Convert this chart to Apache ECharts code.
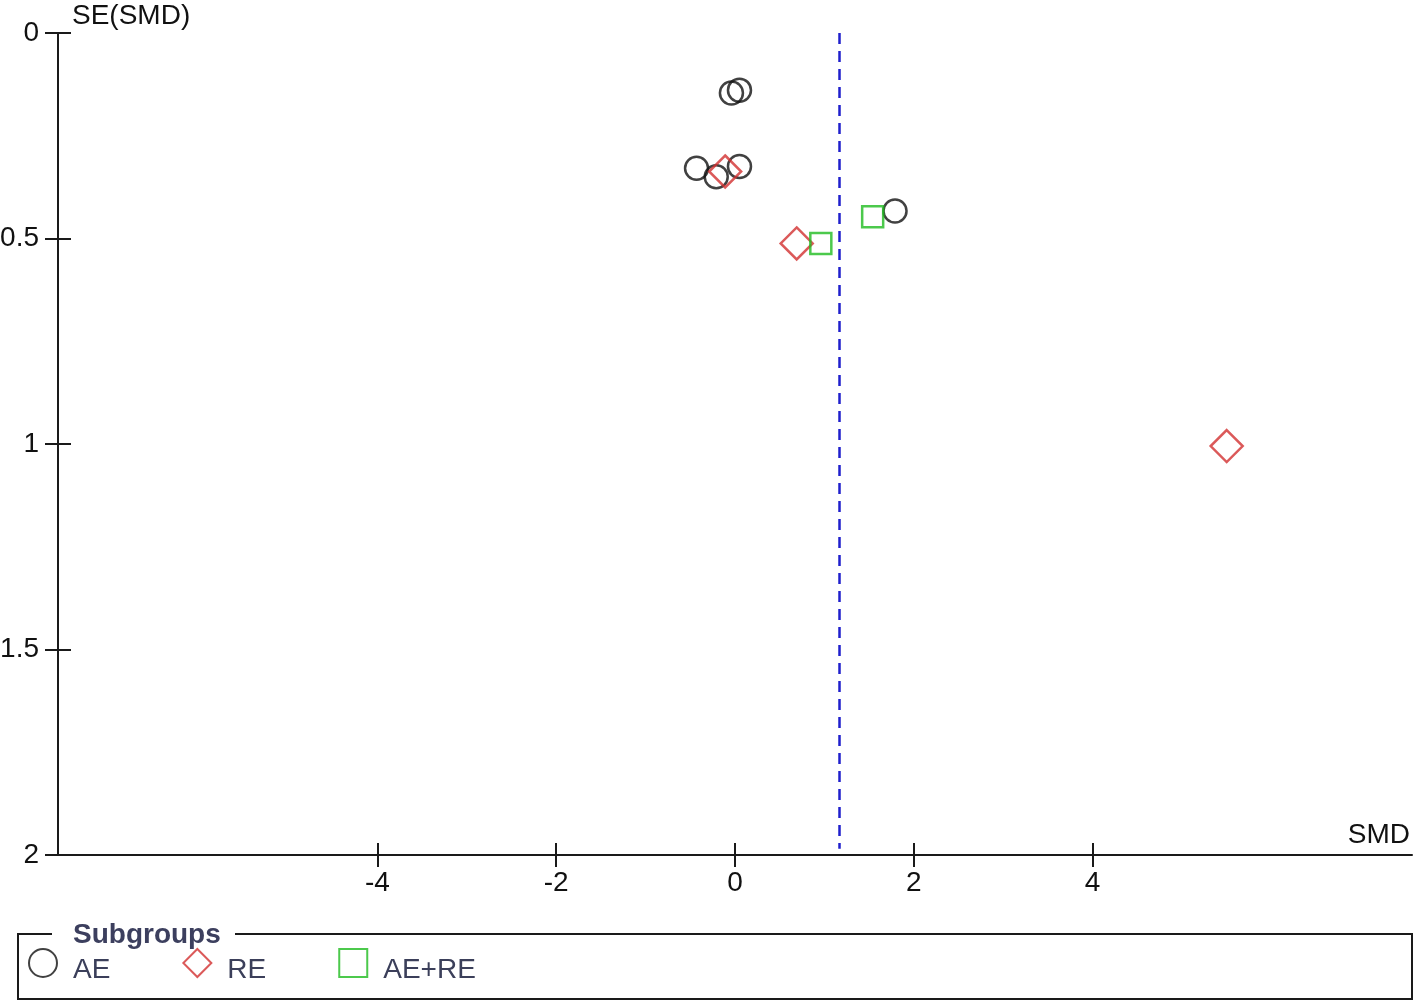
<!DOCTYPE html>
<html>
<head>
<meta charset="utf-8">
<style>html,body{margin:0;padding:0;background:#fff;}#chart{width:1417px;height:1004px;}</style>
<script src="https://cdn.jsdelivr.net/npm/echarts@6/dist/echarts.min.js"></script>
</head>
<body>
<div id="chart"></div>
<script>
// Data: [SMD, SE(SMD)]
const subgroupNames = ['AE', 'RE', 'AE+RE'];
const aePoints = [[-0.04, 0.146], [0.05, 0.139], [-0.43, 0.329], [-0.21, 0.350], [0.05, 0.325], [1.79, 0.433]];
const rePoints = [[-0.11, 0.337], [0.69, 0.512], [5.50, 1.005]];
const aeRePoints = [[0.96, 0.512], [1.54, 0.447]];
const pooledSMD = 1.163;
const xTickValues = [-4, -2, 0, 2, 4];
const yTickValues = [0, 0.5, 1, 1.5, 2];

const FONT = '"Liberation Sans", Arial, sans-serif';
const chart = echarts.init(document.getElementById('chart'), null, {renderer: 'canvas'});
const xMin = -7.573, xMax = 7.573;

const option = {
  animation: false,
  backgroundColor: '#fff',
  textStyle: {fontFamily: FONT},
  grid: {left: 58, right: 5, top: 33, bottom: 149, outerBoundsMode: 'none', containLabel: false},
  xAxis: [{
    type: 'value', min: xMin, max: xMax, position: 'bottom',
    name: 'SMD', nameLocation: 'end', nameGap: -2,
    nameTextStyle: {fontSize: 28, color: '#111', align: 'right', verticalAlign: 'bottom', padding: [0, 0, 6, 0], fontFamily: FONT},
    axisLine: {show: true, onZero: false, lineStyle: {color: '#1a1a1a', width: 2}},
    axisTick: {show: true, length: 12, lineStyle: {color: '#1a1a1a', width: 2}, customValues: xTickValues},
    axisLabel: {show: true, fontSize: 28, color: '#111', margin: 14, customValues: xTickValues, fontFamily: FONT},
    splitLine: {show: false}
  }, {
    type: 'value', min: xMin, max: xMax, position: 'bottom',
    axisLine: {show: false, onZero: false},
    axisTick: {show: true, inside: true, length: 12, lineStyle: {color: '#1a1a1a', width: 2}, customValues: xTickValues},
    axisLabel: {show: false},
    splitLine: {show: false}
  }],
  yAxis: [{
    type: 'value', min: 0, max: 2, interval: 0.5, inverse: true, position: 'left',
    name: 'SE(SMD)', nameLocation: 'start', nameGap: 3,
    nameTextStyle: {fontSize: 28, color: '#111', align: 'left', verticalAlign: 'bottom', padding: [0, 0, 0, 14], fontFamily: FONT},
    axisLine: {show: true, onZero: false, lineStyle: {color: '#1a1a1a', width: 2}},
    axisTick: {show: true, length: 13, lineStyle: {color: '#1a1a1a', width: 2}},
    axisLabel: {show: true, fontSize: 28, color: '#111', margin: 19, fontFamily: FONT},
    splitLine: {show: false}
  }, {
    type: 'value', min: 0, max: 2, interval: 0.5, inverse: true, position: 'left',
    axisLine: {show: false, onZero: false},
    axisTick: {show: true, inside: true, length: 13, lineStyle: {color: '#1a1a1a', width: 2}},
    axisLabel: {show: false},
    splitLine: {show: false}
  }],
  legend: {
    show: true,
    left: 28, top: 948, padding: 0,
    orient: 'horizontal',
    itemWidth: 28, itemHeight: 28, itemGap: 72,
    data: subgroupNames,
    formatter: '{t|{name}}',
    textStyle: {
      fontSize: 28, color: '#3b3f5a', fontFamily: FONT, padding: [0, 0, 0, 11],
      rich: {t: {fontSize: 28, color: '#3b3f5a', fontFamily: FONT, padding: [14, 0, 0, 0]}}
    }
  },
  graphic: [
    {type: 'rect', shape: {x: 18, y: 934, width: 1394, height: 65}, style: {fill: 'none', stroke: '#1a1a1a', lineWidth: 2}, z: 10},
    {type: 'rect', shape: {x: 52, y: 920, width: 183, height: 24}, style: {fill: '#fff'}, z: 11},
    {type: 'text', x: 73, y: 935, style: {text: 'Subgroups', font: 'bold 28px ' + FONT, fill: '#3c3f5e', textVerticalAlign: 'middle'}, z: 12}
  ],
  series: [
    {
      name: 'AE', type: 'scatter', data: aePoints, symbol: 'circle', symbolSize: 23,
      itemStyle: {color: 'rgba(0,0,0,0)', borderColor: '#111', borderWidth: 2.5}, z: 3
    },
    {
      name: 'RE', type: 'scatter', data: rePoints, symbol: 'diamond', symbolSize: 32,
      itemStyle: {color: 'rgba(0,0,0,0)', borderColor: '#d22f2f', borderWidth: 2.5}, z: 4,
      markLine: {
        silent: true, symbol: 'none', label: {show: false},
        lineStyle: {color: '#1f1fcc', type: [11, 7], width: 2.5},
        data: [[{coord: [pooledSMD, 0]}, {coord: [pooledSMD, 1.985]}]]
      }
    },
    {
      name: 'AE+RE', type: 'scatter', data: aeRePoints, symbol: 'rect', symbolSize: 21,
      itemStyle: {color: 'rgba(0,0,0,0)', borderColor: '#1fbb1f', borderWidth: 2.5}, z: 5
    }
  ]
};
chart.setOption(option);
</script>
</body>
</html>
